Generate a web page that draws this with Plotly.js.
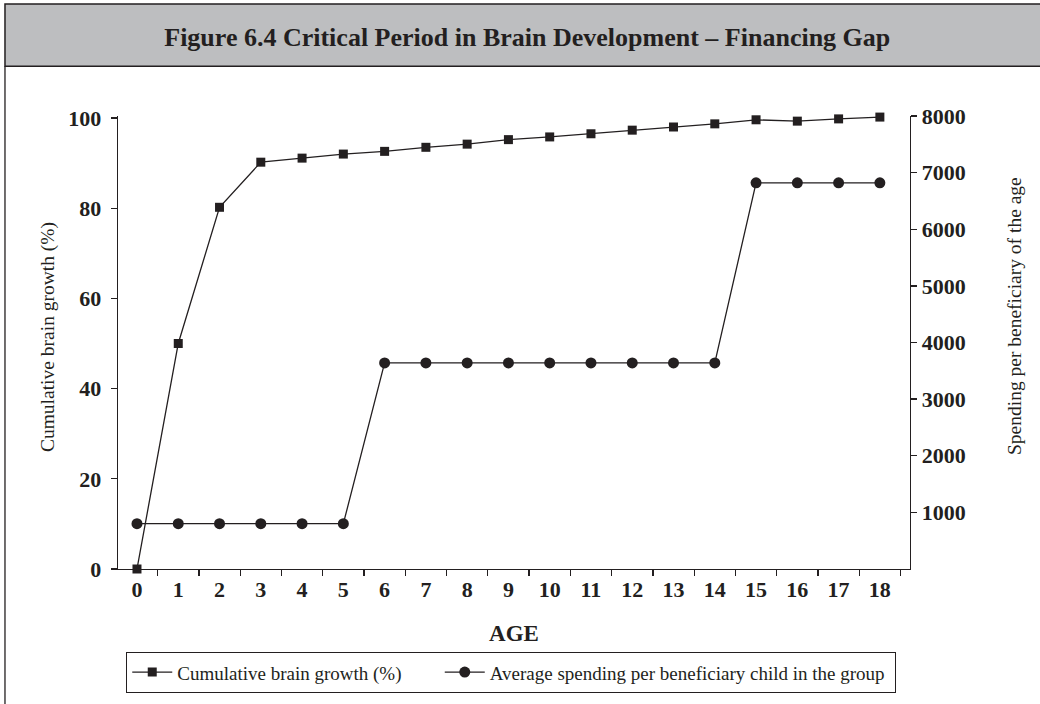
<!DOCTYPE html>
<html>
<head>
<meta charset="utf-8">
<script src="https://cdn.plot.ly/plotly-3.0.1.min.js"></script>
<style>html,body{margin:0;padding:0;background:#fff;}#chart{width:1040px;height:704px;}</style>
</head>
<body>
<div id="chart"></div>
<script>
const ages = ["0","1","2","3","4","5","6","7","8","9","10","11","12","13","14","15","16","17","18"];
const brainGrowth = [0, 50, 80.2, 90.2, 91.1, 92.0, 92.6, 93.5, 94.2, 95.2, 95.8, 96.5, 97.3, 98.0, 98.7, 99.6, 99.3, 99.8, 100.2];
const spending = [800, 800, 800, 800, 800, 800, 3640, 3640, 3640, 3640, 3640, 3640, 3640, 3640, 3640, 6820, 6820, 6820, 6820];
const spendTicks = [1000, 2000, 3000, 4000, 5000, 6000, 7000, 8000];
const leftTicks = [0, 20, 40, 60, 80, 100];

const ink = "#231f20";
const serif = "Liberation Serif, DejaVu Serif, serif";

const traces = [
  {
    x: ages, y: brainGrowth, type: "scatter", mode: "lines+markers",
    name: "Cumulative brain growth (%)&nbsp;&nbsp;&nbsp;&nbsp;&nbsp;&nbsp;&nbsp;",
    line: {color: ink, width: 1.3},
    marker: {symbol: "square", size: 9, color: ink},
    yaxis: "y", cliponaxis: false
  },
  {
    x: ages, y: spending, type: "scatter", mode: "lines+markers",
    name: "Average spending per beneficiary child in the group&nbsp;",
    line: {color: ink, width: 1.3},
    marker: {symbol: "circle", size: 11, color: ink},
    yaxis: "y2", cliponaxis: false
  }
];

const layout = {
  width: 1040, height: 704,
  paper_bgcolor: "#ffffff", plot_bgcolor: "#ffffff",
  margin: {l: 118, r: 130, t: 116, b: 135, pad: 0, autoexpand: false},
  font: {family: serif, color: ink},
  title: {
    text: "Figure 6.4 Critical Period in Brain Development – Financing Gap",
    font: {family: serif, size: 26, color: ink, weight: "bold"},
    x: 0.507, xref: "container", xanchor: "center",
    y: 0.947, yref: "container", yanchor: "middle"
  },
  showlegend: true,
  legend: {
    orientation: "h", xref: "container", yref: "container",
    x: 0.1212, xanchor: "left", y: 0.0447, yanchor: "middle",
    bordercolor: ink, borderwidth: 1.2, bgcolor: "#ffffff",
    font: {family: serif, size: 19, color: ink},
    itemwidth: 40, tracegroupgap: 0
  },
  xaxis: {
    type: "category", range: [-0.46, 18.73],
    showline: true, linecolor: ink, linewidth: 1.3,
    ticks: "outside", ticklen: 6, tickcolor: ink, tickwidth: 1.3,
    tickson: "boundaries", showgrid: false, zeroline: false,
    ticklabelstandoff: 0,
    tickfont: {family: serif, size: 22, color: ink, weight: "bold"},
    title: {text: "AGE", font: {family: serif, size: 23, color: ink, weight: "bold"}, standoff: 24}
  },
  yaxis: {
    range: [0, 100.44], tickvals: leftTicks,
    showline: true, linecolor: ink, linewidth: 1.3,
    ticks: "outside", ticklen: 6, tickcolor: ink, tickwidth: 1.3,
    showgrid: false, zeroline: false, ticklabelstandoff: 5,
    tickfont: {family: serif, size: 22, color: ink, weight: "bold"}
  },
  yaxis2: {
    overlaying: "y", side: "right", anchor: "x",
    range: [0, 8000], tickvals: spendTicks,
    showline: true, linecolor: ink, linewidth: 1.3,
    ticks: "outside", ticklen: 6, tickcolor: ink, tickwidth: 1.3,
    showgrid: false, zeroline: false,
    tickfont: {family: serif, size: 22, color: ink, weight: "bold"}
  },
  annotations: [
    {text: "Cumulative brain growth (%)", xref: "paper", yref: "paper", x: -0.0884, y: 0.512,
     xanchor: "center", yanchor: "middle", textangle: -90, showarrow: false,
     font: {family: serif, size: 19.5, color: ink}},
    {text: "Spending per beneficiary of the age", xref: "paper", yref: "paper", x: 1.1326, y: 0.5585,
     xanchor: "center", yanchor: "middle", textangle: -90, showarrow: false,
     font: {family: serif, size: 19.5, color: ink}}
  ],
  shapes: [
    {type: "rect", xref: "paper", yref: "paper", x0: -0.1427, x1: 1.17, y0: 1.110, y1: 1.247,
     fillcolor: "#bdbec0", line: {color: ink, width: 1.5}, layer: "below"},
    {type: "line", xref: "paper", yref: "paper", x0: -0.1427, x1: -0.1427, y0: 1.110, y1: -0.30,
     line: {color: ink, width: 1.3}}
  ]
};

Plotly.newPlot("chart", traces, layout, {staticPlot: true, displayModeBar: false});
</script>
</body>
</html>
